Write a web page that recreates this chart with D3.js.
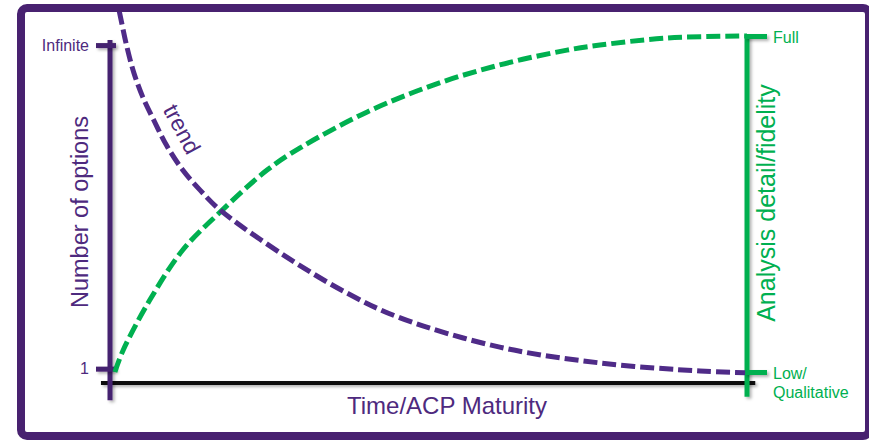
<!DOCTYPE html>
<html>
<head>
<meta charset="utf-8">
<title>Options vs fidelity</title>
<style>
  body { margin: 0; background: #fff; }
  text { font-family: "Liberation Sans", Arial, sans-serif; }
</style>
</head>
<body>
<div id="chart"></div>
<script src="https://d3js.org/d3.v7.min.js"></script>
<script>

// time axis runs 0..100 (ACP maturity), levels 0..100 on both sides
var optionsTime  = [0.3, 0.95, 2.2, 3.3, 4.7, 6.5, 8.4, 11.0, 13.7, 16.9, 27.4, 36.9, 45.3, 61.0, 76.8, 92.6, 99.7];
var optionsLevel = [113, 107.7, 96.7, 89.0, 81.8, 74.7, 67.6, 60.1, 54.2, 48.2, 34.2, 23.5, 16.1, 7.4, 2.7, 0.3, -0.2];

var fidelityTime  = [0.3, 1.6, 5.8, 11.0, 16.9, 24.3, 29.5, 40.1, 50.5, 61.0, 71.6, 76.8, 87.4, 100];
var fidelityLevel = [0, 6.5, 21.4, 36.3, 47.6, 60.1, 66.7, 77.4, 85.4, 91.4, 95.8, 97.3, 99.4, 100];

var leftTickValues = [1, 97.3];
var leftTickLabels = ["1", "Infinite"];
var rightTickValues = [0, 100];
var rightTickLabels = [["Low/", "Qualitative"], ["Full"]];

// how far the axis lines run, in data units
var xAxisExtent = [-1.9, 101.3];
var leftAxisExtent = [-8.4, 98.8];
var rightAxisExtent = [-7.4, 100.3];

var purple = "#4f2b88";
var purpleText = "#4e2a7e";
var green = "#00b050";

var width = 869, height = 441;

var svg = d3.select("#chart").append("svg")
  .attr("width", width)
  .attr("height", height);

var defs = svg.append("defs");
defs.append("clipPath").attr("id", "inside")
  .append("rect").attr("x", 25).attr("y", 12).attr("width", 840).attr("height", 420);
var shadow = defs.append("filter").attr("id", "shadow")
  .attr("filterUnits", "userSpaceOnUse")
  .attr("x", -1000).attr("y", -1000).attr("width", 3000).attr("height", 3000);
shadow.append("feDropShadow")
  .attr("dx", 2).attr("dy", 2).attr("stdDeviation", 1.5)
  .attr("flood-color", "#000").attr("flood-opacity", 0.3);

var x = d3.scaleLinear().domain([0, 100]).range([113, 747]);
var y = d3.scaleLinear().domain([0, 100]).range([372, 36]);

var line = d3.line()
  .x(d => x(d[0]))
  .y(d => y(d[1]))
  .curve(d3.curveCatmullRom.alpha(0.5));

var plot = svg.append("g").attr("clip-path", "url(#inside)");

// x axis (black line)
plot.append("line")
  .attr("x1", x(xAxisExtent[0])).attr("x2", x(xAxisExtent[1]))
  .attr("y1", 383).attr("y2", 383)
  .attr("stroke", "#111").attr("stroke-width", 4)
  .attr("filter", "url(#shadow)");

// left axis
var gLeft = plot.append("g").attr("transform", "translate(110,0)");
gLeft.append("line")
  .attr("y1", y(leftAxisExtent[0])).attr("y2", y(leftAxisExtent[1]))
  .attr("stroke", "#45226f").attr("stroke-width", 5)
  .attr("filter", "url(#shadow)");
gLeft.append("g")
  .call(d3.axisLeft(y).tickValues(leftTickValues)
    .tickFormat((d, i) => leftTickLabels[i])
    .tickSize(14).tickPadding(7))
  .call(g => g.select(".domain").remove())
  .call(g => g.selectAll(".tick line")
    .attr("x1", 6)
    .attr("stroke", "#45226f").attr("stroke-width", 5)
    .attr("filter", "url(#shadow)"))
  .call(g => g.selectAll(".tick text")
    .attr("fill", purpleText)
    .style("font-size", "16px")
    .style("font-family", "Liberation Sans, Arial, sans-serif"));

// right axis
var gRight = plot.append("g").attr("transform", "translate(747,0)");
gRight.append("line")
  .attr("y1", y(rightAxisExtent[0])).attr("y2", y(rightAxisExtent[1]))
  .attr("stroke", green).attr("stroke-width", 5)
  .attr("filter", "url(#shadow)");
var rAxis = gRight.append("g")
  .call(d3.axisRight(y).tickValues(rightTickValues)
    .tickFormat("")
    .tickSize(20).tickPadding(6))
  .call(g => g.select(".domain").remove())
  .call(g => g.selectAll(".tick line")
    .attr("x1", -2)
    .attr("stroke", green).attr("stroke-width", 5)
    .attr("filter", "url(#shadow)"));
rAxis.selectAll(".tick").each(function(d, i) {
  var t = d3.select(this).append("text")
    .attr("x", 26)
    .attr("fill", green)
    .style("font-size", "16px")
    .attr("text-anchor", "start");
  rightTickLabels[i].forEach(function(s, j) {
    t.append("tspan").attr("x", 26).attr("y", 6 + j * 19).text(s);
  });
});

// curves
plot.append("path")
  .datum(d3.zip(fidelityTime, fidelityLevel))
  .attr("d", line)
  .attr("fill", "none")
  .attr("stroke", green)
  .attr("stroke-width", 5)
  .attr("stroke-dasharray", "14,5");

plot.append("path")
  .datum(d3.zip(optionsTime, optionsLevel))
  .attr("d", line)
  .attr("fill", "none")
  .attr("stroke", purple)
  .attr("stroke-width", 5)
  .attr("stroke-dasharray", "14,5");

// labels
svg.append("text")
  .attr("x", 447).attr("y", 414)
  .attr("text-anchor", "middle")
  .attr("fill", purpleText)
  .style("font-size", "24px")
  .text("Time/ACP Maturity");

svg.append("text")
  .attr("transform", "translate(88,212) rotate(-90)")
  .attr("text-anchor", "middle")
  .attr("fill", purpleText)
  .style("font-size", "23.5px")
  .text("Number of options");

svg.append("text")
  .attr("transform", "translate(775,203) rotate(-90)")
  .attr("text-anchor", "middle")
  .attr("fill", green)
  .style("font-size", "25px")
  .text("Analysis detail/fidelity");

svg.append("text")
  .attr("transform", "translate(182,129) rotate(62)")
  .attr("text-anchor", "middle")
  .attr("dy", "0.35em")
  .attr("fill", purpleText)
  .style("font-size", "23px")
  .text("trend");

// outer frame
svg.append("rect")
  .attr("x", 21).attr("y", 8)
  .attr("width", 848).attr("height", 428)
  .attr("rx", 6)
  .attr("fill", "none")
  .attr("stroke", "#482170")
  .attr("stroke-width", 8);

</script>
</body>
</html>
